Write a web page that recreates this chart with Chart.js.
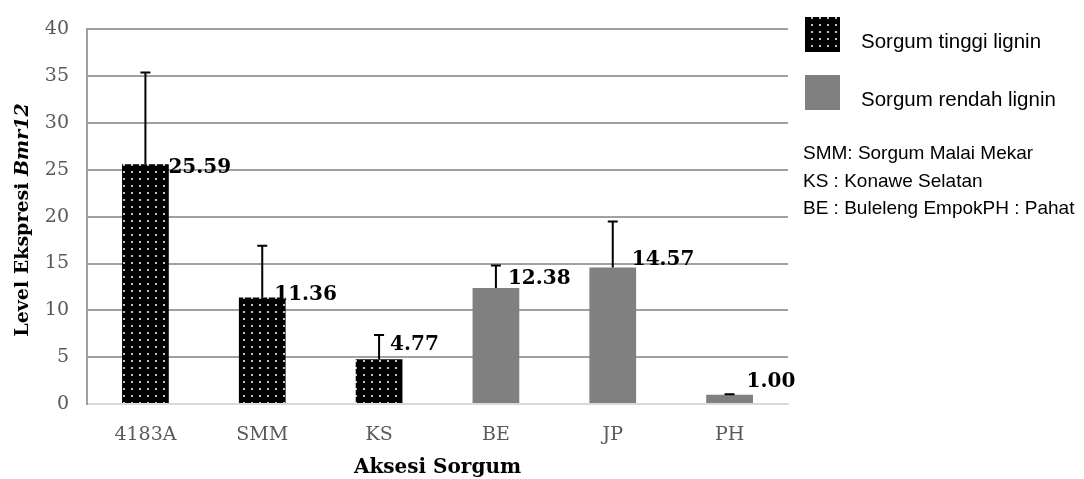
<!DOCTYPE html>
<html>
<head>
<meta charset="utf-8">
<script src="https://cdn.jsdelivr.net/npm/chart.js@4.4.1/dist/chart.umd.min.js"></script>
<style>
  html, body { margin: 0; padding: 0; background: #fff; }
  #wrap { width: 1084px; height: 479px; position: relative; }
</style>
</head>
<body>
<div id="wrap"><canvas id="exprChart"></canvas></div>
<script>
// Bmr12 expression level per sorghum accession
const accessions = ['4183A', 'SMM', 'KS', 'BE', 'JP', 'PH'];
const highLignin = [25.59, 11.36, 4.77, null, null, null];
const lowLignin = [null, null, null, 12.38, 14.57, 1.00];
const errorPlus = [9.8, 5.55, 2.6, 2.42, 4.93, 0.05];
const seriesNames = ['Sorgum tinggi lignin', 'Sorgum rendah lignin'];
const notes = ['SMM: Sorgum Malai Mekar', 'KS : Konawe Selatan', 'BE : Buleleng EmpokPH : Pahat'];

const SERIF = "'DejaVu Serif', serif";
const SANS = "'Liberation Sans', Arial, sans-serif";

// black fill with small light dots, like the office "dotted" pattern
function dotPattern() {
  const c = document.createElement('canvas');
  c.width = 8; c.height = 7;
  const g = c.getContext('2d');
  g.fillStyle = '#000';
  g.fillRect(0, 0, 8, 7);
  g.fillStyle = '#c0c0c0';
  g.fillRect(3, 3, 2, 2);
  return g.createPattern(c, 'repeat');
}
const dots = dotPattern();

const extras = {
  id: 'extras',
  afterDatasetsDraw(chart, args, opts) {
    const ctx = chart.ctx;
    const y = chart.scales.y;
    ctx.save();
    chart.data.datasets.forEach((ds, di) => {
      const meta = chart.getDatasetMeta(di);
      meta.data.forEach((bar, i) => {
        const v = ds.data[i];
        if (v == null) return;
        const x = bar.x;
        const top = y.getPixelForValue(v);
        const errTop = y.getPixelForValue(v + errorPlus[i]);
        // error bar (upper only)
        ctx.strokeStyle = '#000';
        ctx.lineWidth = 2;
        ctx.beginPath();
        ctx.moveTo(x, top);
        ctx.lineTo(x, errTop);
        ctx.moveTo(x - 5, errTop);
        ctx.lineTo(x + 5, errTop);
        ctx.stroke();
        // value label
        const n = opts.labelNudge[i];
        ctx.fillStyle = '#000';
        ctx.font = 'bold 20px ' + SERIF;
        ctx.textAlign = 'left';
        ctx.textBaseline = 'middle';
        ctx.fillText(v.toFixed(2), x + n[0], top + n[1]);
      });
    });
    ctx.restore();
  },
  afterDraw(chart) {
    const ctx = chart.ctx;
    ctx.save();
    // y axis title, gene name in italics
    const a = 'Level Ekspresi ', b = 'Bmr12';
    ctx.font = 'bold 19px ' + SERIF;
    const wa = ctx.measureText(a).width;
    ctx.font = 'italic bold 19px ' + SERIF;
    const wb = ctx.measureText(b).width;
    ctx.translate(28, 220);
    ctx.rotate(-Math.PI / 2);
    ctx.fillStyle = '#000';
    ctx.textBaseline = 'alphabetic';
    ctx.textAlign = 'left';
    ctx.font = 'bold 19px ' + SERIF;
    ctx.fillText(a, -(wa + wb) / 2, 0);
    ctx.font = 'italic bold 19px ' + SERIF;
    ctx.fillText(b, -(wa + wb) / 2 + wa, 0);
    ctx.restore();

    ctx.save();
    // x axis title
    ctx.fillStyle = '#000';
    ctx.font = 'bold 20px ' + SERIF;
    ctx.textAlign = 'center';
    ctx.textBaseline = 'alphabetic';
    const area = chart.chartArea;
    ctx.fillText('Aksesi Sorgum', (area.left + area.right) / 2, 473);

    // legend
    const fills = [dots, '#808080'];
    const rows = [17, 75];
    ctx.textAlign = 'left';
    ctx.textBaseline = 'middle';
    ctx.font = '20.5px ' + SANS;
    seriesNames.forEach((name, k) => {
      ctx.fillStyle = fills[k];
      ctx.fillRect(805, rows[k], 35, 35);
      ctx.fillStyle = '#000';
      ctx.fillText(name, 861, rows[k] + 25);
    });
    // abbreviation notes
    ctx.font = '19px ' + SANS;
    notes.forEach((t, k) => {
      ctx.fillText(t, 803, 154 + k * 27.5);
    });
    ctx.restore();
  }
};

new Chart(document.getElementById('exprChart'), {
  type: 'bar',
  data: {
    labels: accessions,
    datasets: [
      { label: seriesNames[0], data: highLignin, backgroundColor: dots, skipNull: true,
        categoryPercentage: 0.8, barPercentage: 0.5 },
      { label: seriesNames[1], data: lowLignin, backgroundColor: '#808080', skipNull: true,
        categoryPercentage: 0.8, barPercentage: 0.5 }
    ]
  },
  options: {
    responsive: true,
    maintainAspectRatio: false,
    animation: false,
    layout: { padding: { left: 0, top: 22, right: 296, bottom: 0 } },
    plugins: {
      legend: { display: false },
      tooltip: { enabled: false },
      extras: { labelNudge: [[23, 3.5], [12, -3], [11, -15], [12, -9.5], [19, -8], [17, -13]] }
    },
    scales: {
      x: {
        grid: { display: false, drawTicks: false },
        border: { display: true, color: '#d9d9d9', width: 2 },
        ticks: { color: '#595959', font: { family: SERIF, size: 19 }, padding: 20 },
        afterFit: s => { s.height = 75; }
      },
      y: {
        min: 0,
        max: 40,
        ticks: { stepSize: 5, color: '#595959', font: { family: SERIF, size: 19 }, padding: 18 },
        grid: {
          drawTicks: false,
          lineWidth: 2,
          color: c => (c.tick && c.tick.value === 0 ? 'rgba(0,0,0,0)' : '#a0a0a0')
        },
        border: { display: true, color: '#a0a0a0', width: 2 },
        afterFit: s => { s.width = 87; }
      }
    }
  },
  plugins: [extras]
});
</script>
</body>
</html>
